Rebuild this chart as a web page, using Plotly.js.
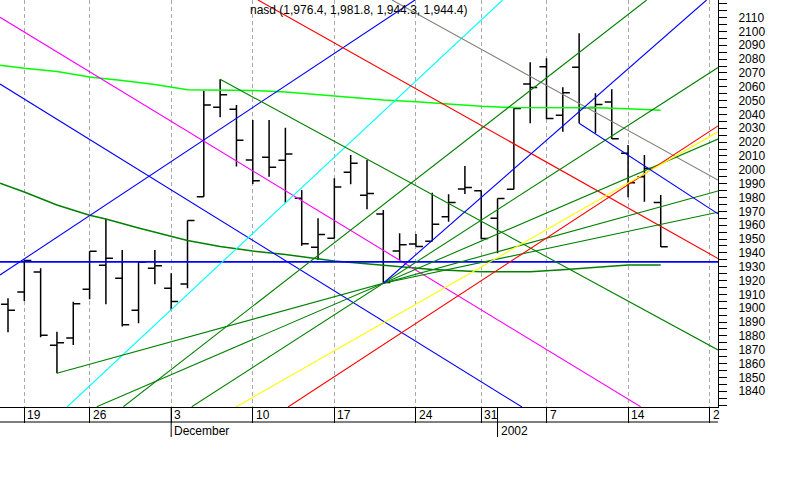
<!DOCTYPE html>
<html><head><meta charset="utf-8">
<script src="https://cdn.plot.ly/plotly-3.0.1.min.js"></script>
<style>html,body{margin:0;padding:0;background:#fff}#chart{width:800px;height:500px}</style>
</head><body><div id="chart"></div>
<script>
// ---- data (trading days, Nov 16 2001 .. Jan 16 2002) ----
const dates = ['2001-11-16','2001-11-19','2001-11-20','2001-11-21','2001-11-23','2001-11-26','2001-11-27','2001-11-28','2001-11-29','2001-11-30',
  '2001-12-03','2001-12-04','2001-12-05','2001-12-06','2001-12-07','2001-12-10','2001-12-11','2001-12-12','2001-12-13','2001-12-14',
  '2001-12-17','2001-12-18','2001-12-19','2001-12-20','2001-12-21','2001-12-24','2001-12-26','2001-12-27','2001-12-28','2001-12-31',
  '2002-01-02','2002-01-03','2002-01-04','2002-01-07','2002-01-08','2002-01-09','2002-01-10','2002-01-11','2002-01-14','2002-01-15','2002-01-16'];
const futureDays = ['2002-01-17','2002-01-18','2002-01-21','2002-01-22'];
const openP  = [1902.8,1911.7,1926.2,1873.2,1878.5,1913.7,1931.0,1921.6,1898.5,1928.8,
  1914.4,1917.5,1980.6,2045.2,2043.7,2007.1,2009.0,2006.9,1979.4,1944.0,
  1950.5,1998.2,1981.6,1968.1,1941.3,1946.4,1948.3,1966.1,1986.1,1984.9,
  1965.0,1985.9,2062.0,2074.5,2039.4,2074.1,2045.0,2049.0,2011.9,1995.0,1976.4];
const highP  = [1907.2,1935.0,1928.8,1883.0,1904.7,1941.2,1964.5,1942.1,1933.3,1942.1,
  1925.2,1963.3,2056.9,2065.4,2046.8,2036.0,2036.0,2030.4,1985.4,1965.0,
  1993.9,2010.7,2007.1,1971.0,1954.1,1953.6,1983.5,1982.3,2002.8,1984.9,
  1979.3,2044.4,2077.7,2080.6,2059.6,2098.6,2055.3,2058.2,2017.9,2010.7,1981.8];
const lowP   = [1882.6,1905.2,1879.0,1853.0,1873.4,1906.4,1902.8,1886.7,1889.1,1917.3,
  1898.7,1914.4,1980.6,2037.9,2002.3,1989.7,1995.0,1976.2,1945.2,1934.9,
  1950.5,1989.5,1971.5,1918.0,1934.9,1944.4,1948.3,1962.5,1982.5,1949.8,
  1939.7,1985.9,2033.6,2036.5,2027.5,2033.6,2026.4,2022.3,1980.1,1976.9,1944.3];
const closeP = [1898.6,1934.4,1880.5,1875.0,1903.2,1941.2,1936.0,1888.0,1933.3,1930.6,
  1904.9,1963.3,2046.8,2054.3,2021.3,1992.1,2001.9,2011.4,1946.5,1953.2,
  1987.5,2004.8,1982.9,1918.5,1945.8,1944.5,1960.7,1976.4,1987.3,1950.4,
  1979.3,2044.3,2059.4,2037.1,2055.7,2044.9,2047.2,2022.5,1990.7,2000.9,1944.4];

// moving-average style curves (day index, value)
const limeDays  = [-1.49,0,2,4,6,8,10,12,14,16,18,20,22,24,26,28,30,32,35,37,39];
const limeVals  = [2075.5,2073.3,2071.0,2067.1,2064.5,2061.6,2057.9,2057.7,2057.3,2056.2,2054.4,2052.6,2050.4,2049.2,2047.6,2045.9,2045.0,2044.9,2044.9,2044.2,2043.0];
const dkDays    = [-1.49,0,2,4,5,7,10,12,14,16,19,22,25,28,31,33,35,37,39];
const dkVals    = [1990.3,1984.0,1974.6,1967.1,1964.5,1958.0,1948.9,1944.6,1941.3,1938.8,1934.1,1930.9,1928.0,1926.4,1926.4,1927.8,1929.4,1931.2,1931.2];

// trend lines: [dayIndex0, price0, dayIndex1, price1]
const trendLines = {
  magenta:   [-1.49,2110.2,37.77,1828.8],
  blueDesc:  [-1.49,2062.0,30.50,1828.6],
  blueAscL:  [-1.49,1924.0,23.94,2122.7],
  blueHoriz: [-1.49,1933.5,42.51,1933.5],
  cyan:      [2.62,1828.6,29.31,2122.7],
  redDesc:   [14.32,2122.7,42.51,1935.9],
  gray:      [22.53,2122.7,42.51,1992.6],
  greenDesc: [12,2065.4,42.51,1869.8],
  greenSteep:[6.07,1828.8,38.14,2122.7],
  fan1:      [2,1853.0,42.51,1984.7],
  fan2:      [4.44,1828.8,42.51,2022.2],
  fan3:      [10.26,1828.8,42.51,2073.9],
  fan4:      [22,1918.0,42.51,1969.3],
  blueAscP:  [22,1918.0,41.81,2122.7],
  redAsc:    [16.16,1828.6,42.51,2031.7],
  yellow:    [12.97,1828.6,42.51,2027.5],
  blueDesc2: [34,2033.6,42.51,1968.2]
};
const weekTickDates = ['2001-11-19','2001-11-26','2001-12-03','2001-12-10','2001-12-17','2001-12-24','2001-12-31','2002-01-07','2002-01-14','2002-01-21'];
const weekTickText  = ['19','26','3','10','17','24','31','7','14','2'];
const monthDates = ['2001-12-03','2002-01-02'];
const monthText  = ['December','2002'];
const titleText = 'nasd (1,976.4, 1,981.8, 1,944.3, 1,944.4)';

// ---- styles ----
const lineStyle = {
  magenta:['#ff00ff',1.1], blueDesc:['#0000ff',1.1], blueAscL:['#0000ff',1.1], blueHoriz:['#0000ff',1.8],
  cyan:['#00ffff',1.1], redDesc:['#ff0000',1.1], gray:['#808078',1.1], greenDesc:['#008000',1.1],
  greenSteep:['#008000',1.1], fan1:['#008000',1.1], fan2:['#008000',1.1], fan3:['#008000',1.1], fan4:['#008000',1.1],
  blueAscP:['#0000ff',1.1], redAsc:['#ff0000',1.1], yellow:['#ffff00',1.1], blueDesc2:['#0000ff',1.1]
};
const axisDates = dates.concat(futureDays);
const idx = d => axisDates.indexOf(d) - 1;   // Nov 19 = 0
const xs = dates.map(idx);

const FONT = {family:'Liberation Sans, Arial, sans-serif', size:12, color:'#000'};
const M = {l:0, r:82, t:0, b:93};
const plotH = 500 - M.t - M.b;
const XR = [-1.49, 42.51], YR = [1828.6, 2122.7];

const traces = [];
traces.push({type:'scatter', mode:'lines', x:limeDays, y:limeVals, line:{color:'#00ff00', width:1.5}, hoverinfo:'skip'});
traces.push({type:'scatter', mode:'lines', x:dkDays, y:dkVals, line:{color:'#008000', width:1.5}, hoverinfo:'skip'});
for (const k in trendLines) {
  const t = trendLines[k];
  traces.push({type:'scatter', mode:'lines', x:[t[0],t[2]], y:[t[1],t[3]],
    line:{color:lineStyle[k][0], width:lineStyle[k][1]}, hoverinfo:'skip'});
}
traces.push({type:'ohlc', x:xs, open:openP, high:highP, low:lowP, close:closeP,
  increasing:{line:{color:'#000', width:1.5}}, decreasing:{line:{color:'#000', width:1.5}},
  tickwidth:0.43, hoverinfo:'skip'});

const weekIdx = weekTickDates.map(idx);
const annotations = [];
annotations.push({xref:'paper', yref:'paper', x:0.5, y:1, xanchor:'center', yanchor:'middle', yshift:-9.5,
  text:titleText, showarrow:false, font:FONT});
weekIdx.forEach((v,k)=>annotations.push({xref:'x', yref:'paper', x:v, y:0, xanchor:'left', yanchor:'middle',
  xshift:1, yshift:-8, text:weekTickText[k], showarrow:false, font:FONT}));
monthDates.forEach((d,k)=>annotations.push({xref:'x', yref:'paper', x:idx(d), y:0, xanchor:'left', yanchor:'middle',
  xshift:1, yshift:-24, text:monthText[k], showarrow:false, font:FONT}));

const py = px => -px / plotH;
const shapes = [];
shapes.push({type:'line', xref:'paper', yref:'paper', x0:0, x1:1, y0:py(15), y1:py(15), line:{color:'#000', width:1}});
monthDates.forEach(d=>shapes.push({type:'line', xref:'x', yref:'paper', x0:idx(d), x1:idx(d), y0:0, y1:py(30), line:{color:'#000', width:1}}));

const layout = {
  width:800, height:500, margin:M, showlegend:false, hovermode:false,
  paper_bgcolor:'#fff', plot_bgcolor:'#fff', font:FONT,
  xaxis:{range:XR, type:'linear', rangeslider:{visible:false}, fixedrange:true,
    tickmode:'array', tickvals:weekIdx, showticklabels:false, ticks:'outside', ticklen:15, tickcolor:'#000', tickwidth:1,
    showgrid:true, gridcolor:'#aaaaaa', griddash:'4px,3px', gridwidth:1, zeroline:false,
    showline:true, linecolor:'#000', linewidth:1},
  yaxis:{range:YR, side:'right', fixedrange:true, tickmode:'array',
    tickvals:Array.from({length:28},(_, k)=>1840+10*k),
    ticks:'outside', ticklen:8, tickcolor:'#000', tickwidth:1, ticklabelstandoff:9,
    minor:{tickmode:'linear', tick0:1830, dtick:5, ticks:'outside', ticklen:8, tickcolor:'#000', showgrid:false},
    showgrid:false, zeroline:false, showline:true, linecolor:'#000', linewidth:1, tickfont:FONT},
  annotations, shapes
};
Plotly.newPlot('chart', traces, layout, {staticPlot:true, displayModeBar:false});
</script></body></html>
